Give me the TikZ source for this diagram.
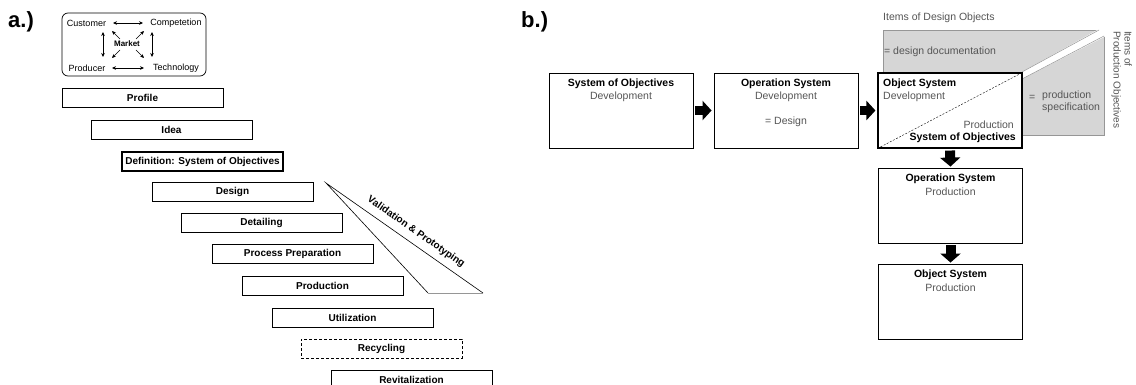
\documentclass[tikz,border=0pt]{standalone}
\usepackage{fontspec}
\setmainfont{Liberation Sans}
\usetikzlibrary{arrows.meta}
\definecolor{graybg}{RGB}{214,214,214}
\definecolor{grayln}{RGB}{150,150,150}
\definecolor{graytx}{RGB}{85,85,85}
\begin{document}
\begin{tikzpicture}[x=1pt,y=-1pt,
  stage/.style={draw, line width=0.8pt, minimum width=161pt, minimum height=19pt, inner sep=0pt, font=\fontsize{10}{12}\selectfont\bfseries},
  sbox/.style={draw, line width=0.9pt, fill=white, minimum width=144pt, minimum height=75pt, inner sep=0pt},
  ttl/.style={font=\fontsize{10.5}{12}\selectfont\bfseries, inner sep=0pt},
  sub/.style={font=\fontsize{10.5}{12}\selectfont, text=graytx, inner sep=0pt},
  mtxt/.style={font=\fontsize{9}{10}\selectfont, inner sep=0pt},
  mk/.style={{Stealth[length=4pt,width=3.6pt]}-{Stealth[length=4pt,width=3.6pt]}, line width=0.6pt},
  mk1/.style={-{Stealth[length=4pt,width=3.6pt]}, line width=0.6pt},
  harrow/.style={line width=9pt, -{Triangle[length=9pt,width=19pt]}, shorten <=2pt, shorten >=2pt},
  varrow/.style={line width=10pt, -{Triangle[length=9pt,width=20pt]}, shorten <=2pt, shorten >=1pt},
  biglbl/.style={font=\fontsize{22}{24}\selectfont\bfseries, inner sep=0pt, anchor=west},
]
\clip (0,0) rectangle (1136,385);
\fill[white] (0,0) rectangle (1136,385);

% ---------------- a.) ----------------
\node[biglbl] (la) at (8,22) {a.)};
\node[draw, rounded corners=6pt, minimum width=144pt, minimum height=63pt, line width=0.7pt] (mbox) at (134,44.5) {};
\node[mtxt] (cust) at (86.5,23) {Customer};
\node[mtxt] (comp) at (176,23) {Competetion};
\node[mtxt] (prod) at (87,68) {Producer};
\node[mtxt] (tech) at (176,68) {Technology};
\node[font=\fontsize{8}{9}\selectfont\bfseries, inner sep=0pt] (mkt) at (127,44) {Market};
\coordinate (h1a) at (113,23); \coordinate (h1b) at (143,23);
\coordinate (h2a) at (112,68); \coordinate (h2b) at (144,68);
\coordinate (v1a) at (103,32); \coordinate (v1b) at (103,57);
\coordinate (v2a) at (152,32); \coordinate (v2b) at (152,57);
\draw[mk] (h1a) -- (h1b);
\draw[mk] (h2a) -- (h2b);
\draw[mk] (v1a) -- (v1b);
\draw[mk] (v2a) -- (v2b);
\coordinate (d1a) at (120,39); \coordinate (d1b) at (112,31);
\coordinate (d2a) at (136,39); \coordinate (d2b) at (144,31);
\coordinate (d3a) at (120,50); \coordinate (d3b) at (112,58);
\coordinate (d4a) at (136,50); \coordinate (d4b) at (144,58);
\draw[mk1] (d1a) -- (d1b);
\draw[mk1] (d2a) -- (d2b);
\draw[mk1] (d3a) -- (d3b);
\draw[mk1] (d4a) -- (d4b);

\node[stage] (p1) at (142.5,98) {Profile};
\node[stage] (p2) at (171.5,130) {Idea};
\node[stage, line width=1.7pt] (p3) at (202.5,161.5) {Definition: System of Objectives};
\node[stage] (p4) at (232.5,191.5) {Design};
\node[stage] (p5) at (261.5,223) {Detailing};
\node[stage] (p6) at (292.5,254) {Process Preparation};
\node[stage] (p7) at (322.5,286) {Production};
\node[stage] (p8) at (352.5,317.5) {Utilization};
\node[stage, dash pattern=on 3pt off 2pt] (p9) at (381.5,348.5) {Recycling};
\node[stage] (p10) at (411.5,379.5) {Revitalization};

\coordinate (vA) at (326,183);
\coordinate (vL) at (428,293);
\coordinate (vR) at (483,293);
\draw[line width=0.6pt] (vL) -- (vA) -- (vR);
\draw[grayln, line width=0.7pt] (vL) -- (vR);
\node[rotate=-35, font=\fontsize{10}{12}\selectfont\bfseries, inner sep=0pt] (val) at (416,232) {Validation \& Prototyping};

% ---------------- b.) ----------------
\node[biglbl] (lb) at (521,22) {b.)};

\fill[graybg, draw=grayln, line width=0.5pt] (883,30) rectangle (1104,135);
\fill[white] (1022,72) -- (1099,29) -- (1106,29) -- (1106,36) -- (1022,79) -- cycle;
\draw[grayln, line width=0.5pt] (1022,72) -- (1099,30);
\draw[grayln, line width=0.5pt] (1022,79) -- (1104,36);

\node[sub, anchor=west] (idt) at (883,18) {Items of Design Objects};
\node[sub, anchor=west] (dd) at (884,52) {= design documentation};
\node[sub, anchor=west] (eq) at (1029,97.5) {=};
\node[sub, anchor=north west, align=left] (ps) at (1042,91) {production\\specification};
\node[sub, rotate=-90, anchor=north west, align=left, font=\fontsize{10}{11}\selectfont] (ipo) at (1132,31) {Items of\\Production Objectives};

\node[sbox] (sob) at (621,110.5) {};
\node[sbox] (osd) at (786,110.5) {};
\node[sbox, line width=1.1pt] (obd) at (950,110.5) {};
\draw[line width=0.4pt, dash pattern=on 2pt off 1.5pt] (obd.south west) -- (obd.north east);
\node[sbox] (osp) at (950.5,205.5) {};
\node[sbox] (obp) at (950.5,301.5) {};

\node[ttl] (t1) at (621,84) {System of Objectives};
\node[sub] (s1) at (621,96.5) {Development};
\node[ttl] (t2) at (786,84) {Operation System};
\node[sub] (s2) at (786,96.5) {Development};
\node[sub] (s2b) at (786,121.5) {= Design};
\node[ttl, anchor=west] (t3) at (883,84) {Object System};
\node[sub, anchor=west] (s3) at (883,96.5) {Development};
\node[sub, anchor=east] (s3b) at (1014,125) {Production};
\node[ttl, anchor=east] (t3b) at (1016,138) {System of Objectives};
\node[ttl] (t4) at (950.5,179) {Operation System};
\node[sub] (s4) at (950.5,191.5) {Production};
\node[ttl] (t5) at (950.5,275) {Object System};
\node[sub] (s5) at (950.5,287.5) {Production};

\draw[harrow] (sob.east) -- (osd.west);
\draw[harrow] (osd.east) -- (obd.west);
\draw[varrow] (obd.south) -- (osp.north);
\draw[varrow] (osp.south) -- (obp.north);
\end{tikzpicture}
\end{document}
